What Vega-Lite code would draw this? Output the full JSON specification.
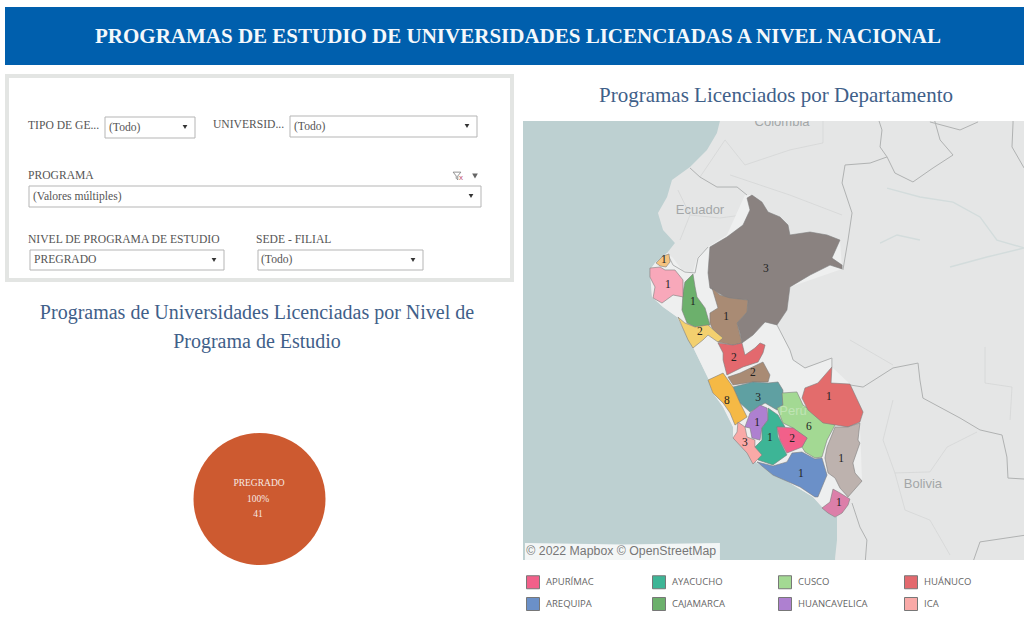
{
"$schema":"https://vega.github.io/schema/vega-lite/v6.json",
"padding":0,
"background":"white",
"config":{"view":{"stroke":null},"axis":{"disable":true},"text":{"font":"Liberation Serif"}},
"datasets":{
"base":[
{"type":"Feature","properties":{"nombre":"Tierra","tipo":"tierra"},"geometry":{"type":"Polygon","coordinates":[[[-77.07,5.34],[-58.90,5.34],[-58.90,-22.09],[-70.61,-22.09],[-70.61,-20.83],[-70.50,-19.80],[-70.50,-18.49],[-71.30,-17.97],[-71.87,-17.34],[-75.07,-15.40],[-76.44,-13.91],[-76.44,-13.34],[-77.01,-12.20],[-77.59,-11.40],[-77.87,-10.54],[-78.73,-8.77],[-79.64,-7.06],[-80.44,-6.49],[-81.07,-5.91],[-81.19,-4.37],[-80.90,-3.97],[-80.21,-3.40],[-79.76,-2.83],[-80.44,-2.09],[-80.73,-1.11],[-80.21,-0.20],[-79.93,0.77],[-78.90,1.51],[-77.93,2.49],[-77.36,3.46],[-77.19,4.14],[-77.07,5.34]]]}},
{"type":"Feature","properties":{"nombre":"Perú","tipo":"pais"},"geometry":{"type":"Polygon","coordinates":[[[-80.90,-3.97],[-80.21,-3.40],[-79.87,-3.69],[-79.36,-4.37],[-78.73,-4.49],[-78.50,-3.69],[-77.87,-3.06],[-76.79,-2.37],[-75.76,-0.09],[-75.36,-0.09],[-73.19,-2.37],[-70.33,-2.66],[-70.21,-4.31],[-73.19,-5.34],[-73.36,-6.66],[-73.93,-7.51],[-73.19,-8.94],[-73.01,-9.51],[-72.33,-9.97],[-70.79,-9.40],[-70.79,-9.91],[-69.76,-10.89],[-69.01,-12.49],[-69.19,-13.11],[-69.07,-16.43],[-69.87,-17.34],[-69.76,-17.46],[-70.21,-18.26],[-70.61,-18.49],[-71.30,-17.97],[-71.87,-17.34],[-75.07,-15.40],[-76.44,-13.91],[-76.44,-13.34],[-77.01,-12.20],[-77.59,-11.40],[-77.87,-10.54],[-78.73,-8.77],[-79.64,-7.06],[-80.44,-6.49],[-81.07,-5.91],[-81.19,-4.37],[-80.90,-3.97]]]}},
{"type":"Feature","properties":{"tipo":"rio"},"geometry":{"type":"MultiLineString","coordinates":[[[-67.64,0.31],[-65.76,-0.20],[-63.87,-0.49],[-62.33,-1.34],[-61.36,-2.66],[-59.81,-3.11]],[[-68.04,-2.83],[-67.07,-2.37],[-65.76,-2.66]],[[-64.04,-4.20],[-61.93,-3.63],[-59.81,-3.11]]]}},
{"type":"Feature","properties":{"tipo":"interno"},"geometry":{"type":"MultiLineString","coordinates":[[[-79.59,0.20],[-78.90,-1.23],[-79.47,-2.66]],[[-78.90,-1.23],[-77.19,-1.40],[-75.93,-1.23]],[[-78.33,0.94],[-76.90,3.06],[-75.76,1.63],[-73.19,2.49],[-71.30,2.89],[-71.30,4.49]],[[-76.61,1.06],[-73.19,-0.09],[-70.21,-1.23]],[[-67.30,-11.80],[-67.87,-14.09],[-67.19,-15.97],[-65.19,-15.91],[-64.21,-14.49],[-62.50,-13.63]],[[-67.19,-15.97],[-66.61,-18.09],[-65.19,-18.66],[-64.04,-20.66]],[[-62.04,-8.77],[-62.04,-10.83],[-60.50,-11.06],[-60.61,-12.94]],[[-69.76,-8.37],[-67.30,-9.80]]]}},
{"type":"Feature","properties":{"tipo":"frontera"},"geometry":{"type":"MultiLineString","coordinates":[[[-78.90,1.46],[-78.33,0.94],[-77.36,0.37],[-76.21,0.37],[-75.64,-0.09]],[[-77.87,-3.06],[-78.44,-3.69],[-78.61,-4.54],[-79.19,-4.49],[-79.87,-4.09],[-80.16,-3.51]],[[-70.16,-4.37],[-69.87,-2.66],[-69.64,-1.11],[-70.21,0.60],[-70.04,1.63],[-68.61,1.74],[-67.64,2.09],[-68.04,2.66],[-67.93,3.63],[-68.21,4.49]],[[-67.64,2.09],[-67.19,1.17],[-66.16,0.66],[-65.01,1.46],[-63.87,2.20],[-64.61,3.06],[-65.01,4.49]],[[-60.44,4.49],[-60.44,4.03],[-60.50,2.66],[-59.81,1.46]],[[-65.19,4.09],[-63.47,3.63],[-62.44,4.09]],[[-73.93,-7.51],[-73.19,-8.94],[-73.01,-9.51],[-72.33,-9.97],[-70.79,-9.40],[-70.79,-9.91]],[[-69.76,-10.94],[-69.01,-11.06],[-67.30,-9.97],[-65.87,-9.69],[-65.76,-10.66],[-65.59,-11.69],[-63.47,-12.83],[-62.33,-13.51],[-61.07,-13.80],[-60.79,-15.06],[-60.73,-16.26],[-58.90,-16.37]],[[-69.64,-17.69],[-69.19,-19.06],[-68.79,-19.80],[-68.90,-21.23]],[[-62.79,-21.23],[-62.33,-19.91],[-58.90,-19.40]]]}},
{"type":"Feature","properties":{"tipo":"atribucion"},"geometry":{"type":"Polygon","coordinates":[[[-88.33,-19.97],[-77.19,-19.97],[-77.19,-21.23],[-88.33,-21.23],[-88.33,-19.97]]]}}
],
"departamentos":[
{"type":"Feature","properties":{"departamento":"LORETO"},"geometry":{"type":"Polygon","coordinates":[[[-75.36,-0.09],[-74.79,-0.49],[-74.44,-1.06],[-73.76,-1.34],[-73.30,-1.80],[-73.19,-2.37],[-72.04,-2.20],[-71.07,-2.37],[-70.33,-2.66],[-70.79,-3.69],[-70.21,-4.09],[-70.21,-4.31],[-70.90,-4.09],[-72.04,-4.66],[-73.19,-5.34],[-73.36,-6.66],[-73.93,-7.51],[-74.61,-7.34],[-75.30,-8.09],[-75.93,-8.54],[-76.04,-7.97],[-76.21,-7.40],[-75.64,-6.77],[-75.59,-6.09],[-76.79,-5.97],[-77.76,-5.40],[-77.87,-4.54],[-77.76,-3.06],[-76.79,-2.49],[-75.87,-1.80],[-75.47,-0.94],[-75.64,-0.26],[-75.36,-0.09]]]}},
{"type":"Feature","properties":{"departamento":"SAN MARTÍN"},"geometry":{"type":"Polygon","coordinates":[[[-77.64,-5.40],[-77.19,-5.80],[-76.61,-5.97],[-75.59,-6.09],[-75.64,-6.77],[-76.21,-7.40],[-75.93,-8.54],[-76.44,-8.66],[-77.30,-8.49],[-77.76,-7.40],[-77.76,-6.83],[-77.30,-6.54],[-77.64,-5.40]]]}},
{"type":"Feature","properties":{"departamento":"CAJAMARCA"},"geometry":{"type":"Polygon","coordinates":[[[-78.73,-4.60],[-78.61,-5.34],[-78.50,-5.91],[-78.04,-6.54],[-77.76,-7.51],[-78.61,-7.63],[-79.07,-7.40],[-79.36,-6.66],[-79.30,-5.69],[-79.19,-5.06],[-78.73,-4.60]]]}},
{"type":"Feature","properties":{"departamento":"PIURA"},"geometry":{"type":"Polygon","coordinates":[[[-81.19,-4.26],[-80.61,-4.20],[-80.33,-4.37],[-79.76,-4.37],[-79.30,-4.94],[-79.30,-5.91],[-79.87,-5.80],[-80.50,-6.26],[-81.01,-5.97],[-80.90,-5.34],[-81.19,-4.77],[-81.19,-4.26]]]}},
{"type":"Feature","properties":{"departamento":"TUMBES"},"geometry":{"type":"Polygon","coordinates":[[[-80.84,-3.97],[-80.44,-3.57],[-80.10,-3.46],[-80.04,-3.91],[-80.27,-4.20],[-80.61,-4.14],[-80.84,-3.97]]]}},
{"type":"Feature","properties":{"departamento":"LA LIBERTAD"},"geometry":{"type":"Polygon","coordinates":[[[-79.59,-7.06],[-79.19,-7.40],[-78.61,-7.63],[-77.87,-7.51],[-77.36,-7.97],[-77.01,-8.26],[-77.30,-8.49],[-77.87,-8.09],[-78.16,-8.37],[-78.73,-8.83],[-79.01,-8.37],[-79.59,-7.06]]]}},
{"type":"Feature","properties":{"departamento":"HUÁNUCO"},"geometry":{"type":"Polygon","coordinates":[[[-77.30,-8.54],[-76.44,-8.66],[-75.93,-8.54],[-75.76,-9.23],[-75.19,-8.83],[-74.90,-8.54],[-74.61,-8.66],[-74.73,-9.11],[-75.01,-9.63],[-75.87,-9.91],[-76.79,-10.37],[-77.01,-9.51],[-77.01,-9.11],[-77.30,-8.54]]]}},
{"type":"Feature","properties":{"departamento":"PASCO"},"geometry":{"type":"Polygon","coordinates":[[[-76.73,-10.49],[-76.04,-10.26],[-74.73,-9.63],[-74.33,-10.37],[-74.44,-10.77],[-75.30,-10.77],[-76.44,-10.94],[-76.73,-10.49]]]}},
{"type":"Feature","properties":{"departamento":"JUNÍN"},"geometry":{"type":"Polygon","coordinates":[[[-76.44,-11.06],[-75.30,-10.77],[-74.44,-10.83],[-73.87,-10.77],[-73.59,-11.23],[-73.59,-12.09],[-73.93,-12.37],[-74.61,-11.97],[-75.47,-12.49],[-76.04,-11.97],[-76.44,-11.06]]]}},
{"type":"Feature","properties":{"departamento":"LIMA"},"geometry":{"type":"Polygon","coordinates":[[[-77.87,-10.66],[-77.01,-10.26],[-76.44,-11.06],[-76.04,-11.97],[-75.64,-12.77],[-76.33,-13.23],[-76.61,-12.54],[-77.01,-11.97],[-77.59,-11.40],[-77.87,-10.66]]]}},
{"type":"Feature","properties":{"departamento":"HUANCAVELICA"},"geometry":{"type":"Polygon","coordinates":[[[-74.90,-12.09],[-74.50,-12.26],[-74.44,-12.94],[-74.79,-13.40],[-74.90,-14.09],[-75.36,-13.97],[-75.47,-13.40],[-75.76,-13.34],[-75.47,-12.54],[-74.90,-12.09]]]}},
{"type":"Feature","properties":{"departamento":"AYACUCHO"},"geometry":{"type":"Polygon","coordinates":[[[-74.44,-12.26],[-73.87,-12.66],[-73.47,-13.34],[-73.93,-13.34],[-73.87,-13.91],[-73.36,-14.94],[-74.16,-15.51],[-75.01,-15.23],[-75.19,-14.49],[-74.79,-14.09],[-74.79,-13.40],[-74.44,-12.94],[-74.44,-12.26]]]}},
{"type":"Feature","properties":{"departamento":"CUSCO"},"geometry":{"type":"Polygon","coordinates":[[[-73.64,-11.40],[-72.79,-11.34],[-72.44,-12.09],[-71.59,-12.66],[-70.61,-13.23],[-71.07,-14.09],[-71.36,-15.06],[-71.76,-15.11],[-72.33,-14.77],[-72.50,-14.49],[-72.21,-13.97],[-73.01,-13.40],[-73.59,-13.11],[-73.93,-12.26],[-73.59,-12.09],[-73.64,-11.40]]]}},
{"type":"Feature","properties":{"departamento":"APURÍMAC"},"geometry":{"type":"Polygon","coordinates":[[[-73.93,-13.34],[-73.01,-13.40],[-72.21,-13.97],[-72.50,-14.49],[-73.36,-14.83],[-73.76,-14.09],[-73.93,-13.34]]]}},
{"type":"Feature","properties":{"departamento":"MADRE DE DIOS"},"geometry":{"type":"Polygon","coordinates":[[[-70.79,-9.91],[-70.84,-10.83],[-69.76,-10.89],[-69.01,-12.49],[-69.19,-13.06],[-69.87,-13.34],[-71.30,-13.11],[-72.16,-12.37],[-72.50,-11.69],[-72.33,-11.11],[-71.59,-10.83],[-70.79,-9.91]]]}},
{"type":"Feature","properties":{"departamento":"PUNO"},"geometry":{"type":"Polygon","coordinates":[[[-69.19,-13.11],[-69.30,-14.09],[-69.19,-14.26],[-69.59,-15.40],[-69.47,-15.97],[-69.07,-16.43],[-69.87,-17.34],[-70.33,-16.83],[-70.61,-16.26],[-71.01,-15.97],[-71.19,-15.11],[-71.07,-14.49],[-70.61,-13.34],[-69.87,-13.34],[-69.19,-13.11]]]}},
{"type":"Feature","properties":{"departamento":"AREQUIPA"},"geometry":{"type":"Polygon","coordinates":[[[-75.07,-15.34],[-74.16,-15.57],[-73.36,-15.34],[-73.07,-14.83],[-72.50,-14.77],[-71.76,-15.17],[-71.36,-15.11],[-71.07,-16.09],[-71.59,-17.34],[-71.76,-17.34],[-72.61,-16.77],[-74.16,-16.09],[-75.07,-15.34]]]}},
{"type":"Feature","properties":{"departamento":"ICA"},"geometry":{"type":"Polygon","coordinates":[[[-76.16,-13.06],[-75.76,-13.34],[-75.64,-13.91],[-75.19,-14.09],[-75.19,-14.49],[-74.79,-14.94],[-75.30,-15.46],[-75.64,-14.83],[-76.44,-13.97],[-76.21,-13.63],[-76.16,-13.06]]]}},
{"type":"Feature","properties":{"departamento":"TACNA"},"geometry":{"type":"Polygon","coordinates":[[[-70.73,-16.89],[-70.33,-17.11],[-69.76,-17.46],[-69.87,-17.80],[-70.21,-18.26],[-70.61,-18.49],[-71.01,-18.26],[-71.36,-17.97],[-70.90,-17.63],[-70.73,-16.89]]]}}
],
"conteos":[
{"departamento":"TUMBES","programas":1,"lon":-80.39,"lat":-3.80},
{"departamento":"PIURA","programas":1,"lon":-80.16,"lat":-5.23},
{"departamento":"CAJAMARCA","programas":1,"lon":-78.73,"lat":-6.20},
{"departamento":"LA LIBERTAD","programas":2,"lon":-78.33,"lat":-7.91},
{"departamento":"SAN MARTÍN","programas":1,"lon":-76.84,"lat":-7.06},
{"departamento":"LORETO","programas":3,"lon":-74.56,"lat":-4.31},
{"departamento":"HUÁNUCO","programas":2,"lon":-76.39,"lat":-9.40},
{"departamento":"PASCO","programas":2,"lon":-75.30,"lat":-10.26},
{"departamento":"JUNÍN","programas":3,"lon":-75.01,"lat":-11.69},
{"departamento":"LIMA","programas":8,"lon":-76.79,"lat":-11.86},
{"departamento":"HUANCAVELICA","programas":1,"lon":-75.07,"lat":-13.11},
{"departamento":"AYACUCHO","programas":1,"lon":-74.33,"lat":-13.97},
{"departamento":"ICA","programas":3,"lon":-75.76,"lat":-14.26},
{"departamento":"APURÍMAC","programas":2,"lon":-73.07,"lat":-14.03},
{"departamento":"CUSCO","programas":6,"lon":-72.10,"lat":-13.34},
{"departamento":"MADRE DE DIOS","programas":1,"lon":-70.96,"lat":-11.63},
{"departamento":"PUNO","programas":1,"lon":-70.27,"lat":-15.17},
{"departamento":"AREQUIPA","programas":1,"lon":-72.56,"lat":-16.03},
{"departamento":"TACNA","programas":1,"lon":-70.39,"lat":-17.69}
],
"paises":[
{"pais":"Colombia","lon":-73.64,"lat":4.09},
{"pais":"Ecuador","lon":-78.33,"lat":-0.94},
{"pais":"Bolivia","lon":-65.59,"lat":-16.60}
],
"nivel":[{"nivel":"PREGRADO","porcentaje":"100%","cantidad":41}]
},
"spacing":0,
"vconcat":[
{"width":1024,"height":65,
 "data":{"values":[{"titulo":"PROGRAMAS DE ESTUDIO DE UNIVERSIDADES LICENCIADAS A NIVEL NACIONAL"}]},
 "layer":[
  {"mark":{"type":"rect","color":"#005fad"},"encoding":{"x":{"datum":5,"scale":{"domain":[0,1024],"nice":false,"zero":false}},"x2":{"datum":1024},"y":{"datum":7,"scale":{"domain":[0,65],"reverse":true,"nice":false,"zero":false}},"y2":{"datum":65}}},
  {"mark":{"type":"text","font":"Liberation Serif","fontWeight":"bold","fontSize":21,"color":"#f4f8fb","align":"center","baseline":"middle"},"encoding":{"x":{"datum":518},"y":{"datum":36.5},"text":{"field":"titulo"}}}
 ]},
{"spacing":0,"hconcat":[
 {"width":523,"height":553,
  "data":{"values":[{"panel":"filtros"}]},
  "layer":[
   {"mark":{"type":"rect","fill":"white","stroke":"#e3e5e3","strokeWidth":4},"encoding":{"x":{"datum":7,"scale":{"domain":[0,523],"nice":false,"zero":false}},"x2":{"datum":512},"y":{"datum":76,"scale":{"domain":[65,618],"reverse":true,"nice":false,"zero":false}},"y2":{"datum":280}}},
   {"mark":{"type":"rect","fill":"white","stroke":"#b5b5b5"},"encoding":{"x":{"datum":105},"x2":{"datum":195},"y":{"datum":117},"y2":{"datum":138}}},
   {"mark":{"type":"rect","fill":"white","stroke":"#b5b5b5"},"encoding":{"x":{"datum":290},"x2":{"datum":477},"y":{"datum":116},"y2":{"datum":137}}},
   {"mark":{"type":"rect","fill":"white","stroke":"#b5b5b5"},"encoding":{"x":{"datum":29},"x2":{"datum":481},"y":{"datum":186},"y2":{"datum":207}}},
   {"mark":{"type":"rect","fill":"white","stroke":"#b5b5b5"},"encoding":{"x":{"datum":30},"x2":{"datum":224},"y":{"datum":250},"y2":{"datum":270}}},
   {"mark":{"type":"rect","fill":"white","stroke":"#b5b5b5"},"encoding":{"x":{"datum":258},"x2":{"datum":423},"y":{"datum":250},"y2":{"datum":270}}},
   {"mark":{"type":"text","text":"TIPO DE GE...","font":"Liberation Serif","fontSize":11.6,"color":"#555","align":"left"},"encoding":{"x":{"datum":28},"y":{"datum":126}}},
   {"mark":{"type":"text","text":"UNIVERSID...","font":"Liberation Serif","fontSize":11.6,"color":"#555","align":"left"},"encoding":{"x":{"datum":213},"y":{"datum":125}}},
   {"mark":{"type":"text","text":"PROGRAMA","font":"Liberation Serif","fontSize":11.6,"color":"#555","align":"left"},"encoding":{"x":{"datum":28},"y":{"datum":176}}},
   {"mark":{"type":"text","text":"NIVEL DE PROGRAMA DE ESTUDIO","font":"Liberation Serif","fontSize":11.6,"color":"#555","align":"left"},"encoding":{"x":{"datum":28},"y":{"datum":240}}},
   {"mark":{"type":"text","text":"SEDE - FILIAL","font":"Liberation Serif","fontSize":11.6,"color":"#555","align":"left"},"encoding":{"x":{"datum":256},"y":{"datum":240}}},
   {"mark":{"type":"text","text":"(Todo)","font":"Liberation Serif","fontSize":11.6,"color":"#555","align":"left"},"encoding":{"x":{"datum":109},"y":{"datum":128}}},
   {"mark":{"type":"text","text":"(Todo)","font":"Liberation Serif","fontSize":11.6,"color":"#555","align":"left"},"encoding":{"x":{"datum":294},"y":{"datum":127}}},
   {"mark":{"type":"text","text":"(Valores múltiples)","font":"Liberation Serif","fontSize":11.6,"color":"#555","align":"left"},"encoding":{"x":{"datum":33},"y":{"datum":197}}},
   {"mark":{"type":"text","text":"PREGRADO","font":"Liberation Serif","fontSize":11.6,"color":"#555","align":"left"},"encoding":{"x":{"datum":34},"y":{"datum":260}}},
   {"mark":{"type":"text","text":"(Todo)","font":"Liberation Serif","fontSize":11.6,"color":"#555","align":"left"},"encoding":{"x":{"datum":261},"y":{"datum":260}}},
   {"mark":{"type":"point","shape":"triangle-down","filled":true,"size":22,"color":"#333","opacity":1},"encoding":{"x":{"datum":185},"y":{"datum":127}}},
   {"mark":{"type":"point","shape":"triangle-down","filled":true,"size":22,"color":"#333","opacity":1},"encoding":{"x":{"datum":467},"y":{"datum":126}}},
   {"mark":{"type":"point","shape":"triangle-down","filled":true,"size":22,"color":"#333","opacity":1},"encoding":{"x":{"datum":471},"y":{"datum":196}}},
   {"mark":{"type":"point","shape":"triangle-down","filled":true,"size":22,"color":"#333","opacity":1},"encoding":{"x":{"datum":214},"y":{"datum":260}}},
   {"mark":{"type":"point","shape":"triangle-down","filled":true,"size":22,"color":"#333","opacity":1},"encoding":{"x":{"datum":413},"y":{"datum":260}}},
   {"mark":{"type":"point","shape":"triangle-down","filled":true,"size":32,"color":"#666","opacity":1},"encoding":{"x":{"datum":475},"y":{"datum":176}}},
   {"mark":{"type":"point","shape":"M-1,-1L1,-1L0.2,0L0.2,1L-0.2,0.6L-0.2,0Z","filled":false,"size":60,"stroke":"#777","strokeWidth":0.8,"opacity":1},"encoding":{"x":{"datum":457},"y":{"datum":176}}},
   {"mark":{"type":"text","text":"x","font":"Liberation Sans","fontSize":8,"color":"#c0506a"},"encoding":{"x":{"datum":461},"y":{"datum":178}}},
   {"mark":{"type":"text","text":"Programas de Universidades Licenciadas por Nivel de","font":"Liberation Serif","fontSize":20,"color":"#3f6089"},"encoding":{"x":{"datum":257},"y":{"datum":313}}},
   {"mark":{"type":"text","text":"Programa de Estudio","font":"Liberation Serif","fontSize":20,"color":"#3f6089"},"encoding":{"x":{"datum":257},"y":{"datum":342}}},
   {"data":{"name":"nivel"},"mark":{"type":"arc","outerRadius":66,"color":"#cd5a30"},"encoding":{"theta":{"field":"cantidad","type":"quantitative"},"x":{"datum":259.5},"y":{"datum":499}}},
   {"data":{"name":"nivel"},"mark":{"type":"text","font":"Liberation Serif","fontSize":9.5,"color":"#f7e9e2"},"encoding":{"x":{"datum":259},"y":{"datum":483},"text":{"field":"nivel"}}},
   {"data":{"name":"nivel"},"mark":{"type":"text","font":"Liberation Serif","fontSize":9.5,"color":"#f7e9e2"},"encoding":{"x":{"datum":258},"y":{"datum":499},"text":{"field":"porcentaje"}}},
   {"data":{"name":"nivel"},"mark":{"type":"text","font":"Liberation Serif","fontSize":9.5,"color":"#f7e9e2"},"encoding":{"x":{"datum":258},"y":{"datum":514},"text":{"field":"cantidad"}}}
  ]},
 {"spacing":0,"vconcat":[
  {"width":501,"height":56,
   "data":{"values":[{"titulo":"Programas Licenciados por Departamento"}]},
   "mark":{"type":"text","font":"Liberation Serif","fontSize":21,"color":"#3f6089"},
   "encoding":{"x":{"datum":776,"scale":{"domain":[523,1024],"nice":false,"zero":false}},"y":{"datum":96,"scale":{"domain":[65,121],"reverse":true,"nice":false,"zero":false}},"text":{"field":"titulo"}}},
  {"width":501,"height":439,
   "view":{"fill":"#bdd0d1","stroke":null},
   "projection":{"type":"equirectangular","scale":1002.68,"translate":[1547.75,72.5]},
   "layer":[
    {"data":{"name":"base"},"transform":[{"filter":"datum.properties.tipo==='tierra'"}],"mark":{"type":"geoshape","clip":true,"fill":"#e5e6e6","stroke":null}},
    {"data":{"name":"base"},"transform":[{"filter":"datum.properties.tipo==='rio'"}],"mark":{"type":"geoshape","clip":true,"filled":false,"stroke":"#d3dcdc","strokeWidth":1.4}},
    {"data":{"name":"base"},"transform":[{"filter":"datum.properties.tipo==='interno'"}],"mark":{"type":"geoshape","clip":true,"filled":false,"stroke":"#d3d4d4","strokeWidth":0.7}},
    {"data":{"name":"base"},"transform":[{"filter":"datum.properties.tipo==='pais'"}],"mark":{"type":"geoshape","clip":true,"fill":"#eeefef","stroke":null}},
    {"data":{"name":"base"},"transform":[{"filter":"datum.properties.tipo==='frontera'"}],"mark":{"type":"geoshape","clip":true,"filled":false,"stroke":"#b0b2b2","strokeWidth":1}},
    {"data":{"name":"paises"},"mark":{"type":"text","clip":true,"font":"Liberation Sans","fontSize":13,"color":"#a3a6a8"},"encoding":{"longitude":{"field":"lon","type":"quantitative"},"latitude":{"field":"lat","type":"quantitative"},"text":{"field":"pais"}}},
    {"data":{"name":"departamentos"},"mark":{"type":"geoshape","clip":true,"stroke":"#7d7d7d","strokeWidth":0.6},
     "encoding":{"color":{"field":"properties.departamento","type":"nominal",
      "scale":{"domain":["APURÍMAC","AREQUIPA","AYACUCHO","CAJAMARCA","CUSCO","HUANCAVELICA","HUÁNUCO","ICA","JUNÍN","LA LIBERTAD","LIMA","LORETO","MADRE DE DIOS","PASCO","PIURA","PUNO","SAN MARTÍN","TACNA","TUMBES"],
       "range":["#f2608a","#6b90c8","#3db596","#6cb06c","#a3d993","#ae80d0","#e3696e","#f9a9a7","#5fa0a2","#f3d06f","#f5b945","#8a8280","#e36c6c","#a98b74","#f8a8ba","#bdb2ae","#a98b74","#dc7fa9","#f5c37f"]},
      "legend":{"title":null,"orient":"none","legendX":526,"legendY":575,"direction":"horizontal","columns":4,"values":["APURÍMAC","AYACUCHO","CUSCO","HUÁNUCO","AREQUIPA","CAJAMARCA","HUANCAVELICA","ICA"],"gridAlign":"all","columnPadding":34,"rowPadding":4,"symbolType":"square","symbolSize":169,"symbolStrokeColor":"#777","symbolStrokeWidth":1,"labelFont":"Open Sans","labelFontSize":9.5,"labelColor":"#666","labelOffset":6,"labelLimit":120}}}},
    {"data":{"values":[{"pais":"Perú","lon":-73.01,"lat":-12.43}]},"mark":{"type":"text","font":"Liberation Sans","fontSize":13,"color":"#ffffff","opacity":0.3},"encoding":{"longitude":{"field":"lon","type":"quantitative"},"latitude":{"field":"lat","type":"quantitative"},"text":{"field":"pais"}}},
    {"data":{"name":"conteos"},"mark":{"type":"text","font":"Liberation Serif","fontSize":11.5,"color":"#222"},"encoding":{"longitude":{"field":"lon","type":"quantitative"},"latitude":{"field":"lat","type":"quantitative"},"text":{"field":"programas"}}},
    {"data":{"name":"base"},"transform":[{"filter":"datum.properties.tipo==='atribucion'"}],"mark":{"type":"geoshape","clip":true,"fill":"#f3f6f6","stroke":null}},
    {"data":{"values":[{"texto":"© 2022 Mapbox © OpenStreetMap","lon":-88.25,"lat":-20.43}]},"mark":{"type":"text","font":"Liberation Sans","fontSize":12.3,"color":"#777","align":"left"},"encoding":{"longitude":{"field":"lon","type":"quantitative"},"latitude":{"field":"lat","type":"quantitative"},"text":{"field":"texto"}}}
   ]}
 ]}
]}
]
}
